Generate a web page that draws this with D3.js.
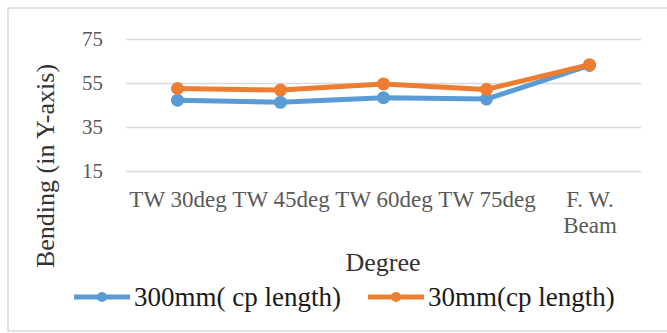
<!DOCTYPE html>
<html>
<head>
<meta charset="utf-8">
<script src="https://cdn.jsdelivr.net/npm/d3@7"></script>
<style>
  body { margin: 0; background: #fff; }
</style>
</head>
<body>
<div id="chart"></div>
<script>
// data
const categories = ["TW 30deg", "TW 45deg", "TW 60deg", "TW 75deg", "F. W.|Beam"];
const cp300 = [47.2, 46.2, 48.3, 47.7, 63.0];
const cp30 = [52.5, 51.8, 54.6, 52.1, 63.3];
const yTicks = [15, 35, 55, 75];
const seriesNames = ["300mm( cp length)", "30mm(cp length)"];
const colors = ["#5b9bd5", "#ed7d31"];

const FONT = "'Liberation Serif', 'DejaVu Serif', serif";

const W = 667, H = 333;
const margin = {top: 39, right: 26, bottom: 162, left: 126};
const width = W - margin.left - margin.right,
      height = H - margin.top - margin.bottom;

const svg = d3.select("#chart")
  .append("svg")
    .attr("width", W)
    .attr("height", H)
    .style("font-family", FONT);

// chart border
svg.append("rect")
  .attr("x", 8).attr("y", 8)
  .attr("width", 700).attr("height", 323)
  .attr("fill", "none")
  .attr("stroke", "#d9d9d9")
  .attr("stroke-width", 1.5);

const g = svg.append("g")
  .attr("transform", `translate(${margin.left}, ${margin.top})`);

const x = d3.scalePoint()
  .domain(categories)
  .range([0, width])
  .padding(0.5);

const y = d3.scaleLinear()
  .domain([15, 75])
  .range([height, 0]);

// Y axis with gridlines
const yAxis = g.append("g")
  .call(d3.axisLeft(y).tickValues(yTicks).tickSize(-width).tickPadding(23))
  .attr("font-family", null);
yAxis.select(".domain").remove();
yAxis.selectAll(".tick line").attr("stroke", "#d9d9d9").attr("stroke-width", 1.5);
yAxis.selectAll(".tick text")
  .attr("fill", "#595959")
  .style("font-family", FONT)
  .style("font-size", "21px");

// X axis labels
const xAxis = g.append("g")
  .attr("transform", `translate(0, ${height})`)
  .call(d3.axisBottom(x).tickSize(0).tickFormat(""))
  .attr("font-family", null);
xAxis.select(".domain").remove();
xAxis.selectAll(".tick").each(function(d) {
  const lines = d.split("|");
  const t = d3.select(this).append("text")
    .attr("fill", "#595959")
    .attr("text-anchor", "middle")
    .style("font-family", FONT)
    .style("font-size", "23px");
  lines.forEach((l, i) => {
    t.append("tspan").attr("x", 0).attr("y", 36 + i * 26).text(l);
  });
});

// lines and dots
const line = d3.line()
  .x((d, i) => x(categories[i]))
  .y(d => y(d));

[cp300, cp30].forEach((s, k) => {
  g.append("path")
    .datum(s)
    .attr("fill", "none")
    .attr("stroke", colors[k])
    .attr("stroke-width", 5)
    .attr("stroke-linejoin", "round")
    .attr("d", line);
  g.selectAll(".dot" + k)
    .data(s)
    .enter()
    .append("circle")
      .attr("cx", (d, i) => x(categories[i]))
      .attr("cy", d => y(d))
      .attr("r", 6.5)
      .attr("fill", colors[k]);
});

// axis titles
svg.append("text")
  .attr("transform", "translate(54, 166) rotate(-90)")
  .attr("text-anchor", "middle")
  .attr("fill", "#333")
  .style("font-family", FONT)
  .style("font-size", "26px")
  .text("Bending (in Y-axis)");

svg.append("text")
  .attr("x", 383)
  .attr("y", 271)
  .attr("text-anchor", "middle")
  .attr("fill", "#333")
  .style("font-family", FONT)
  .style("font-size", "26px")
  .text("Degree");

// legend
const legendX = [74, 368];
seriesNames.forEach((name, k) => {
  const lg = svg.append("g").attr("transform", `translate(${legendX[k]}, 297)`);
  lg.append("line")
    .attr("x1", 0).attr("x2", 56)
    .attr("stroke", colors[k])
    .attr("stroke-width", 5);
  lg.append("circle")
    .attr("cx", 28).attr("r", 5)
    .attr("fill", colors[k]);
  lg.append("text")
    .attr("x", 60)
    .attr("y", 9)
    .attr("fill", "#1a1a1a")
    .style("font-family", FONT)
    .style("font-size", "27px")
    .text(name);
});
</script>
</body>
</html>
